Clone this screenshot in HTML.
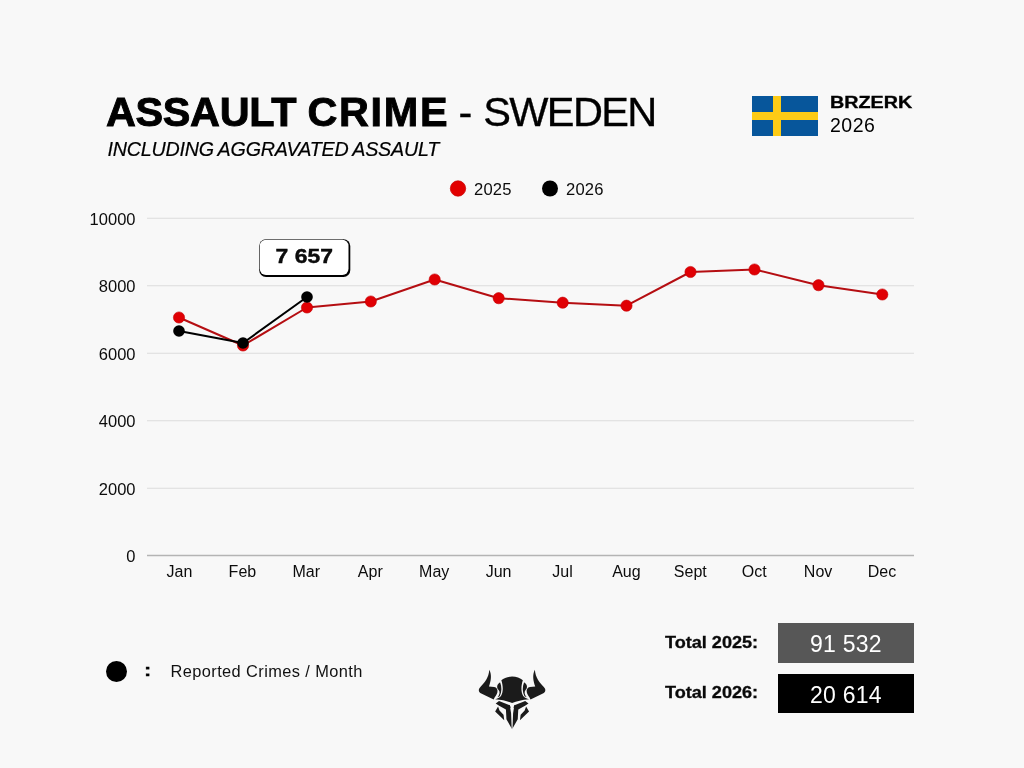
<!DOCTYPE html>
<html lang="en">
<head>
<meta charset="utf-8">
<title>Assault Crime - Sweden</title>
<style>
html,body{margin:0;padding:0;}
body{width:1024px;height:768px;background:#f8f8f8;position:relative;overflow:hidden;font-family:"Liberation Sans",Arial,Helvetica,sans-serif;color:#000;}
.abs{position:absolute;white-space:nowrap;line-height:1;}
#title{left:105.9px;top:92.2px;font-size:41.4px;font-weight:700;letter-spacing:-0.3px;-webkit-text-stroke:0.9px #000;}
#dash{left:458.6px;top:91px;font-size:41.5px;-webkit-text-stroke:0.3px #000;}
#sweden{left:483.2px;top:91.3px;font-size:41.5px;letter-spacing:-1.6px;-webkit-text-stroke:0.35px #000;}
#subtitle{left:107.6px;top:140.1px;font-size:19.7px;font-style:italic;letter-spacing:-0.22px;word-spacing:-0.8px;-webkit-text-stroke:0.2px #000;}
#brand{left:830.3px;top:93.6px;font-size:17.4px;font-weight:700;transform-origin:0 0;transform:scaleX(1.135);-webkit-text-stroke:0.35px #000;}
#year{left:830px;top:116.3px;font-size:19.5px;letter-spacing:0.5px;}
#flag{left:752px;top:96px;width:66px;height:40px;background:#07569b;}
#flag i{position:absolute;background:#fdcb16;display:block;}
#flag i.v{left:21px;top:0;width:8px;height:40px;}
#flag i.h{left:0;top:16px;width:66px;height:8px;}
#chart{position:absolute;left:0;top:0;}
#chart text{font-family:"Liberation Sans",Arial,Helvetica,sans-serif;fill:#0c0c0c;}
#bigdot{left:106px;top:661px;width:21px;height:21px;border-radius:50%;background:#000;}
#colon{left:144.1px;top:662.6px;font-size:16px;font-weight:700;transform-origin:0 0;transform:scaleX(1.35);-webkit-text-stroke:0.3px #000;}
#rep{left:170.5px;top:663.2px;font-size:16.4px;letter-spacing:0.4px;color:#111;}
.tl{font-size:16px;font-weight:700;transform-origin:0 0;transform:scaleX(1.13);color:#0a0a0a;-webkit-text-stroke:0.3px #0a0a0a;}
#t25{left:665px;top:635.3px;}
#t26{left:665px;top:685.3px;}
.box{width:136.5px;height:39.7px;color:#fff;font-size:23px;text-align:center;line-height:43.6px;letter-spacing:0.25px;}
#b25{left:777.7px;top:623.4px;background:#575757;}
#b26{left:777.7px;top:673.6px;background:#000;}
#logo{position:absolute;left:472px;top:664px;width:80px;height:70px;}
</style>
</head>
<body>
<div class="abs" id="title">ASSAULT <span style="letter-spacing:1.7px">CRIME</span></div>
<div class="abs" id="dash">-</div>
<div class="abs" id="sweden">SWEDEN</div>
<div class="abs" id="subtitle">INCLUDING AGGRAVATED ASSAULT</div>
<div class="abs" id="flag"><i class="v"></i><i class="h"></i></div>
<div class="abs" id="brand">BRZERK</div>
<div class="abs" id="year">2026</div>

<svg id="chart" width="1024" height="768" viewBox="0 0 1024 768">
  <g stroke="#dcdcdc" stroke-width="1.1">
    <line x1="147" y1="218.2" x2="914" y2="218.2"/>
    <line x1="147" y1="285.7" x2="914" y2="285.7"/>
    <line x1="147" y1="353.2" x2="914" y2="353.2"/>
    <line x1="147" y1="420.7" x2="914" y2="420.7"/>
    <line x1="147" y1="488.2" x2="914" y2="488.2"/>
  </g>
  <line x1="147" y1="555.5" x2="914" y2="555.5" stroke="#b4b4b4" stroke-width="1.4"/>
  <g font-size="16.5" text-anchor="end">
    <text x="135.5" y="224.7">10000</text>
    <text x="135.5" y="292.2">8000</text>
    <text x="135.5" y="359.7">6000</text>
    <text x="135.5" y="427.2">4000</text>
    <text x="135.5" y="494.7">2000</text>
    <text x="135.5" y="562.2">0</text>
  </g>
  <g font-size="16" text-anchor="middle">
    <text x="179.4" y="577">Jan</text>
    <text x="242.4" y="577">Feb</text>
    <text x="306.3" y="577">Mar</text>
    <text x="370.3" y="577">Apr</text>
    <text x="434.2" y="577">May</text>
    <text x="498.6" y="577">Jun</text>
    <text x="562.5" y="577">Jul</text>
    <text x="626.4" y="577">Aug</text>
    <text x="690.3" y="577">Sept</text>
    <text x="754.2" y="577">Oct</text>
    <text x="818.1" y="577">Nov</text>
    <text x="882" y="577">Dec</text>
  </g>
  <!-- legend -->
  <circle cx="458" cy="188.5" r="7.7" fill="#e20000" stroke="#c80000" stroke-width="0.7"/>
  <text x="474" y="194.6" font-size="16.6" letter-spacing="0.2">2025</text>
  <circle cx="550" cy="188.5" r="8" fill="#000"/>
  <text x="566" y="194.6" font-size="16.6" letter-spacing="0.2">2026</text>
  <!-- 2025 -->
  <polyline fill="none" stroke="#b50e12" stroke-width="2" stroke-linejoin="round"
    points="179,317.5 243,345.5 307,307.5 370.8,301.5 434.7,279.5 498.7,298.2 562.7,302.7 626.5,305.7 690.5,272 754.5,269.5 818.5,285.2 882.3,294.5"/>
  <g fill="#e00004" stroke="#c40003" stroke-width="0.6">
    <circle cx="179" cy="317.5" r="5.6"/><circle cx="243" cy="345.5" r="5.6"/><circle cx="307" cy="307.5" r="5.6"/>
    <circle cx="370.8" cy="301.5" r="5.6"/><circle cx="434.7" cy="279.5" r="5.6"/><circle cx="498.7" cy="298.2" r="5.6"/>
    <circle cx="562.7" cy="302.7" r="5.6"/><circle cx="626.5" cy="305.7" r="5.6"/><circle cx="690.5" cy="272" r="5.6"/>
    <circle cx="754.5" cy="269.5" r="5.6"/><circle cx="818.5" cy="285.2" r="5.6"/><circle cx="882.3" cy="294.5" r="5.6"/>
  </g>
  <!-- 2026 -->
  <polyline fill="none" stroke="#000" stroke-width="2" stroke-linejoin="round" points="179,331 243,343 307,297"/>
  <g fill="#000">
    <circle cx="179" cy="331" r="5.8"/><circle cx="243" cy="343" r="5.8"/><circle cx="307" cy="297" r="5.8"/>
  </g>
  <!-- label -->
  <rect x="259.2" y="239.2" width="91.1" height="37.7" rx="6.8" fill="#000"/>
  <rect x="259.75" y="239.75" width="88.75" height="35.25" rx="6.2" fill="#fff"/>
  <text transform="translate(304.2 263.2) scale(1.125 1)" x="0" y="0" font-size="20.4" font-weight="700" text-anchor="middle" fill="#000" stroke="#000" stroke-width="0.4">7 657</text>
</svg>

<div class="abs" id="bigdot"></div>
<div class="abs" id="colon">:</div>
<div class="abs" id="rep">Reported Crimes / Month</div>

<div class="abs tl" id="t25">Total 2025:</div>
<div class="abs tl" id="t26">Total 2026:</div>
<div class="abs box" id="b25">91 532</div>
<div class="abs box" id="b26">20 614</div>

<svg id="logo" viewBox="0 0 878 768">
  <defs>
    <g id="half">
      <!-- horn -->
      <path d="M190,62 C220,120 208,185 186,246 L244,253 C270,256 285,280 279,311 C273,341 253,355 238,389 L102,324 C70,305 66,280 92,252 C138,202 184,150 190,62 Z"/>
      <!-- cheek crescent -->
      <path d="M300,206 C270,232 270,264 292,286 C309,304 306,336 280,366 L304,354 C329,300 327,250 309,203 Z"/>
      <!-- brow bar -->
      <path d="M260,434 L296,406 L414,452 L426,478 L372,498 L298,458 Z"/>
      <!-- outer blade -->
      <path d="M286,466 L254,520 L354,616 L346,556 L302,510 Z"/>
      <!-- central bar -->
      <path d="M372,494 L414,448 L429,540 L435,700 L440,716 L378,606 Z"/>
    </g>
  </defs>
  <g fill="#1b1b1b">
    <path d="M440,137 C395,137 350,154 322,178 C342,240 345,300 318,352 C300,372 280,381 254,387 C330,393 390,408 440,428 C490,408 550,393 626,387 C600,381 580,372 562,352 C535,300 538,240 558,178 C530,154 485,137 440,137 Z"/>
    <use href="#half"/>
    <use href="#half" transform="translate(880 0) scale(-1 1)"/>
  </g>
</svg>
</body>
</html>
